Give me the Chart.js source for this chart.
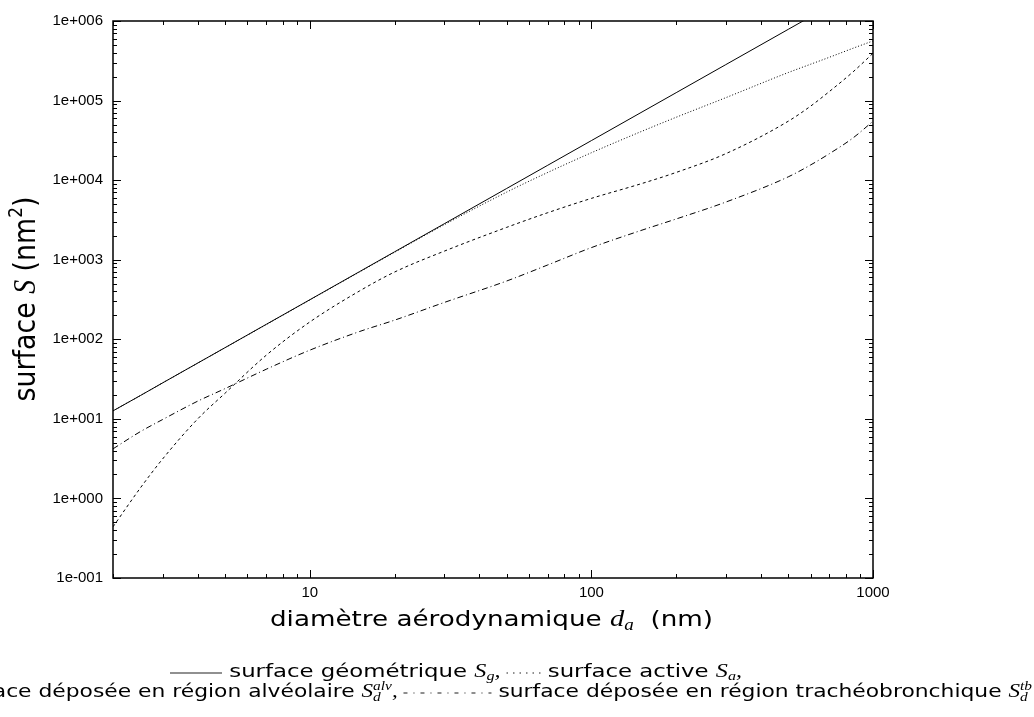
<!DOCTYPE html>
<html>
<head>
<meta charset="utf-8">
<script src="https://cdn.jsdelivr.net/npm/chart.js@4.4.1/dist/chart.umd.min.js"></script>
<style>
  html, body { margin: 0; padding: 0; background: #fff; }
  #wrap { width: 1034px; height: 717px; position: relative; }
</style>
</head>
<body>
<div id="wrap"><canvas id="chart" width="1034" height="717"></canvas></div>
<script>
// axis ticks
const xTickValues = [10, 100, 1000];
const xTickLabels = ['10', '100', '1000'];
const yTickValues = [0.1, 1, 10, 100, 1000, 1e4, 1e5, 1e6];
const yTickLabels = ['1e-001', '1e+000', '1e+001', '1e+002', '1e+003', '1e+004', '1e+005', '1e+006'];

// diametre aerodynamique (nm)
const diameters = [2, 2.5, 3, 4, 5, 7, 10, 15, 20, 30, 50, 70, 100, 150, 200, 300, 500, 600, 700, 850, 1000];

// surfaces (nm2)
const surfaceGeometrique = [12.6, 19.6, 28.3, 50.3, 78.5, 154, 314, 707, 1257, 2827, 7854, 15394, 31416, 70686, 125664, 282743, 785398, 1130973, 1539380, 2269801, 3141593];
const surfaceActive = [12.6, 19.6, 28.3, 50.2, 78.3, 153, 312, 700, 1240, 2750, 7070, 12500, 22100, 40700, 61700, 108700, 225000, 286000, 350000, 455000, 562000];
const surfaceAlveolaire = [0.44, 1.35, 3.13, 10, 21, 63, 165, 404, 700, 1280, 2550, 3900, 5900, 9000, 12500, 21500, 55000, 85000, 130000, 230000, 393000];
const surfaceTracheo = [4.2, 6.9, 9.8, 16.7, 24, 42, 73, 125, 174, 290, 540, 860, 1420, 2330, 3250, 5300, 11000, 15500, 21500, 34000, 55000];

const SANS = '"DejaVu Sans", "Liberation Sans", sans-serif';
const MATH = '"Liberation Serif", "DejaVu Serif", serif';
const TICKFONT = '"Liberation Sans", Arial, sans-serif';

const toPoints = ys => diameters.map((d, i) => ({ x: d, y: ys[i] }));

function lineStyle(dash) {
    return {
        borderColor: '#000',
        borderWidth: 1,
        borderDash: dash,
        pointRadius: 0,
        fill: false,
        cubicInterpolationMode: 'monotone'
    };
}

// texte riche : morceaux de texte, indices/exposants, echantillons de trait
function measureParts(ctx, parts) {
    let textW = 0, sampleW = 0;
    for (const p of parts) {
        if (p.text !== undefined) {
            ctx.font = p.font;
            p.w = ctx.measureText(p.text).width;
            textW += p.w;
        } else if (p.sub !== undefined) {
            ctx.font = p.font;
            p.w = Math.max(ctx.measureText(p.sub).width, ctx.measureText(p.sup).width);
            textW += p.w;
        } else {
            sampleW += p.len;
        }
    }
    return { textW, sampleW };
}

// dessine une ligne centree en cx, etiree horizontalement pour tenir dans target px
function drawLine(ctx, parts, cx, baseline, target) {
    const { textW, sampleW } = measureParts(ctx, parts);
    const sx = (target - sampleW) / textW;
    parts.forEach(p => { if (p.len !== undefined) p.w = p.len / sx; });
    ctx.save();
    ctx.translate(cx, baseline);
    ctx.scale(sx, 1);
    let x = -(textW + sampleW / sx) / 2;
    for (const p of parts) {
        if (p.text !== undefined) {
            ctx.font = p.font;
            ctx.fillText(p.text, x, p.dy || 0);
        } else if (p.sub !== undefined) {
            ctx.font = p.font;
            ctx.fillText(p.sub, x, p.subDy);
            ctx.fillText(p.sup, x, p.supDy);
        } else {
            ctx.beginPath();
            ctx.lineWidth = 1 / sx;
            ctx.setLineDash(p.dash.map(v => v / sx));
            ctx.moveTo(x, p.dy);
            ctx.lineTo(x + p.w, p.dy);
            ctx.stroke();
            ctx.setLineDash([]);
        }
        x += p.w;
    }
    ctx.restore();
}

const framePlugin = {
    id: 'frame',
    afterDatasetsDraw(chart) {
        const { ctx, chartArea: a, scales: { x, y } } = chart;
        ctx.save();
        ctx.strokeStyle = '#000';
        ctx.lineWidth = 1;
        ctx.beginPath();
        for (let e = 0; e <= 3; e++) {
            for (let m = 1; m < 10; m++) {
                const v = m * Math.pow(10, e);
                if (v < 2 || v > 1000) continue;
                const px = Math.round(x.getPixelForValue(v)) + 0.5;
                const len = m === 1 ? 8 : 4;
                ctx.moveTo(px, a.bottom); ctx.lineTo(px, a.bottom - len);
                ctx.moveTo(px, a.top); ctx.lineTo(px, a.top + len);
            }
        }
        for (let e = -1; e <= 6; e++) {
            for (let m = 1; m < 10; m++) {
                if (e === 6 && m > 1) break;
                const v = m * Math.pow(10, e);
                const py = Math.round(y.getPixelForValue(v)) + 0.5;
                const len = m === 1 ? 8 : 4;
                ctx.moveTo(a.left, py); ctx.lineTo(a.left + len, py);
                ctx.moveTo(a.right, py); ctx.lineTo(a.right - len, py);
            }
        }
        ctx.stroke();
        ctx.lineWidth = 1.5;
        ctx.strokeRect(a.left, a.top, a.right - a.left, a.bottom - a.top);
        ctx.restore();
    }
};

const titlesPlugin = {
    id: 'titles',
    afterDraw(chart) {
        const ctx = chart.ctx;
        ctx.save();
        ctx.fillStyle = '#000';
        ctx.strokeStyle = '#000';
        ctx.textBaseline = 'alphabetic';
        ctx.textAlign = 'left';

        // titre axe x
        drawLine(ctx, [
            { text: 'diamètre aérodynamique ', font: `22px ${SANS}` },
            { text: 'd', font: `italic 24px ${MATH}` },
            { text: 'a', font: `italic 16px ${MATH}`, dy: 4 },
            { text: '  (nm)', font: `22px ${SANS}` }
        ], 491.5, 626, 443);

        // titre axe y
        ctx.save();
        ctx.translate(35, 299);
        ctx.rotate(-Math.PI / 2);
        drawLine(ctx, [
            { text: 'surface ', font: `30px ${SANS}` },
            { text: 'S', font: `italic 31px ${MATH}` },
            { text: ' (nm', font: `30px ${SANS}` },
            { text: '2', font: `19px ${SANS}`, dy: -13 },
            { text: ')', font: `30px ${SANS}` }
        ], 0, 0, 205);
        ctx.restore();

        // legende
        const f = `17px ${SANS}`;
        const fm = `italic 18px ${MATH}`;
        const fs = `italic 12px ${MATH}`;
        drawLine(ctx, [
            { len: 52, dash: [], dy: -4 },
            { text: ' surface géométrique ', font: f },
            { text: 'S', font: fm },
            { text: 'g', font: fs, dy: 3 },
            { text: ', ', font: fm },
            { len: 34, dash: [1.5, 5], dy: -4 },
            { text: ' surface active ', font: f },
            { text: 'S', font: fm },
            { text: 'a', font: fs, dy: 3 },
            { text: ',', font: fm }
        ], 456, 677, 572);
        drawLine(ctx, [
            { len: 52, dash: [3, 3], dy: -4 },
            { text: ' surface déposée en région alvéolaire ', font: f },
            { text: 'S', font: fm },
            { sub: 'd', sup: 'alv', font: fs, subDy: 4, supDy: -7 },
            { text: ', ', font: fm },
            { len: 88, dash: [4, 6, 1, 6], dy: -4 },
            { text: ' surface déposée en région trachéobronchique ', font: f },
            { text: 'S', font: fm },
            { sub: 'd', sup: 'tb', font: fs, subDy: 4, supDy: -7 }
        ], 462, 697, 1140);

        ctx.restore();
    }
};

new Chart(document.getElementById('chart'), {
    type: 'line',
    data: {
        datasets: [
            { label: 'surface géométrique', data: toPoints(surfaceGeometrique), ...lineStyle([]) },
            { label: 'surface active', data: toPoints(surfaceActive), ...lineStyle([1, 2]) },
            { label: 'surface déposée en région alvéolaire', data: toPoints(surfaceAlveolaire), ...lineStyle([3, 3]) },
            { label: 'surface déposée en région trachéobronchique', data: toPoints(surfaceTracheo), ...lineStyle([6, 3, 1, 3]) }
        ]
    },
    options: {
        responsive: false,
        animation: false,
        devicePixelRatio: 1,
        layout: { padding: { left: 0, top: 21, right: 161, bottom: 0 } },
        plugins: {
            legend: { display: false },
            tooltip: { enabled: false }
        },
        scales: {
            x: {
                type: 'logarithmic',
                min: 2,
                max: 1000,
                grid: { display: false, drawTicks: false },
                border: { display: false },
                afterBuildTicks: scale => { scale.ticks = xTickValues.map(v => ({ value: v })); },
                afterFit: scale => { scale.height = 139; },
                ticks: {
                    autoSkip: false,
                    maxRotation: 0,
                    padding: 6,
                    color: '#000',
                    font: { family: TICKFONT, size: 15 },
                    callback: (value, index) => xTickLabels[index]
                }
            },
            y: {
                type: 'logarithmic',
                min: 0.1,
                max: 1e6,
                grid: { display: false, drawTicks: false },
                border: { display: false },
                afterBuildTicks: scale => { scale.ticks = yTickValues.map(v => ({ value: v })); },
                afterFit: scale => { scale.width = 113; },
                ticks: {
                    autoSkip: false,
                    padding: 10,
                    color: '#000',
                    font: { family: TICKFONT, size: 15 },
                    callback: (value, index) => yTickLabels[index]
                }
            }
        }
    },
    plugins: [framePlugin, titlesPlugin]
});
</script>
</body>
</html>
